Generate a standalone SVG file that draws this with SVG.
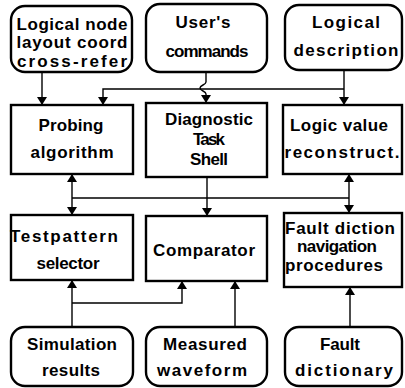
<svg xmlns="http://www.w3.org/2000/svg" width="405" height="388" viewBox="0 0 405 388">
  <style>
    .src { fill: #fff; stroke: #000; stroke-width: 2.4; }
    .box { fill: #fff; stroke: #000; stroke-width: 2.4; }
    .lbl { font-family: "Liberation Sans", Arial, sans-serif; font-weight: bold; font-size: 17px; fill: #000; text-anchor: middle; }
    .wire { fill: none; stroke: #000; stroke-width: 1.4; }
  </style>
  <defs>
    <marker id="ah" viewBox="0 0 8 10" refX="8" refY="5" markerWidth="8" markerHeight="10" markerUnits="userSpaceOnUse" orient="auto-start-reverse">
      <path d="M0,0 L8,5 L0,10 Z" fill="#000"/>
    </marker>
  </defs>
  <rect width="405" height="388" fill="#fff"/>

  <!-- connectors -->
  <g id="connectors" class="wire">
    <path d="M42,72 V105" marker-end="url(#ah)"/>
    <path d="M206,72 V82 C206,85 200,85 200,88 C200,91 206,91 206,94 V103" marker-end="url(#ah)"/>
    <path d="M344,70 V105" marker-end="url(#ah)"/>
    <path d="M344,89 H103 V105" marker-end="url(#ah)"/>
    <path d="M72,174 V215" marker-start="url(#ah)" marker-end="url(#ah)"/>
    <path d="M72,198 H349"/>
    <path d="M349,174 V213" marker-start="url(#ah)" marker-end="url(#ah)"/>
    <path d="M207,177 V216" marker-end="url(#ah)"/>
    <path d="M72,327 V280" marker-end="url(#ah)"/>
    <path d="M72,303 H182 V281" marker-end="url(#ah)"/>
    <path d="M235,327 V281" marker-end="url(#ah)"/>
    <path d="M350,327 V287" marker-end="url(#ah)"/>
  </g>

  <!-- input sources -->
  <g id="layout-xref">
    <rect class="src" x="11" y="6" width="121" height="66" rx="14"/>
    <text class="lbl" x="72" y="30" textLength="111" lengthAdjust="spacing">Logical node</text>
    <text class="lbl" x="72" y="48" textLength="111" lengthAdjust="spacing">layout coord</text>
    <text class="lbl" x="72" y="67" textLength="110" lengthAdjust="spacing">cross-refer</text>
  </g>
  <g id="user-commands">
    <rect class="src" x="146" y="4" width="121" height="68" rx="14"/>
    <text class="lbl" x="203" y="28" textLength="55" lengthAdjust="spacing">User's</text>
    <text class="lbl" x="207" y="57" textLength="83" lengthAdjust="spacing">commands</text>
  </g>
  <g id="logical-description">
    <rect class="src" x="285" y="5" width="117" height="65" rx="14"/>
    <text class="lbl" x="346" y="28" textLength="68" lengthAdjust="spacing">Logical</text>
    <text class="lbl" x="346" y="56" textLength="105" lengthAdjust="spacing">description</text>
  </g>

  <!-- processing modules -->
  <g id="probing">
    <rect class="box" x="11" y="105" width="122" height="69"/>
    <text class="lbl" x="71" y="131" textLength="65" lengthAdjust="spacing">Probing</text>
    <text class="lbl" x="72" y="158" textLength="83" lengthAdjust="spacing">algorithm</text>
  </g>
  <g id="task-shell">
    <rect class="box" x="146" y="103" width="121" height="74"/>
    <text class="lbl" x="209" y="125" textLength="88" lengthAdjust="spacing">Diagnostic</text>
    <text class="lbl" x="209" y="145" textLength="32" lengthAdjust="spacing">Task</text>
    <text class="lbl" x="209" y="165" textLength="38" lengthAdjust="spacing">Shell</text>
  </g>
  <g id="logic-value">
    <rect class="box" x="283" y="105" width="119" height="69"/>
    <text class="lbl" x="339" y="131" textLength="98" lengthAdjust="spacing">Logic value</text>
    <text class="lbl" x="342" y="158" textLength="115" lengthAdjust="spacing">reconstruct.</text>
  </g>
  <g id="testpattern">
    <rect class="box" x="11" y="215" width="122" height="65"/>
    <text class="lbl" x="64" y="242" textLength="108" lengthAdjust="spacing">Testpattern</text>
    <text class="lbl" x="68" y="269" textLength="63" lengthAdjust="spacing">selector</text>
  </g>
  <g id="comparator">
    <rect class="box" x="146" y="216" width="121" height="65"/>
    <text class="lbl" x="204" y="256" textLength="102" lengthAdjust="spacing">Comparator</text>
  </g>
  <g id="fault-navigation">
    <rect class="box" x="284" y="213" width="118" height="74"/>
    <text class="lbl" x="340" y="234" textLength="110" lengthAdjust="spacing">Fault diction</text>
    <text class="lbl" x="337" y="252" textLength="80" lengthAdjust="spacing">navigation</text>
    <text class="lbl" x="334" y="271" textLength="98" lengthAdjust="spacing">procedures</text>
  </g>

  <!-- data sources -->
  <g id="simulation">
    <rect class="src" x="11" y="327" width="122" height="59" rx="14"/>
    <text class="lbl" x="72" y="350" textLength="90" lengthAdjust="spacing">Simulation</text>
    <text class="lbl" x="71" y="376" textLength="58" lengthAdjust="spacing">results</text>
  </g>
  <g id="measured">
    <rect class="src" x="146" y="327" width="121" height="59" rx="14"/>
    <text class="lbl" x="205" y="350" textLength="84" lengthAdjust="spacing">Measured</text>
    <text class="lbl" x="202" y="376" textLength="90" lengthAdjust="spacing">waveform</text>
  </g>
  <g id="fault-dictionary">
    <rect class="src" x="285" y="327" width="117" height="59" rx="14"/>
    <text class="lbl" x="340" y="350" textLength="40" lengthAdjust="spacing">Fault</text>
    <text class="lbl" x="344" y="376" textLength="98" lengthAdjust="spacing">dictionary</text>
  </g>
</svg>
